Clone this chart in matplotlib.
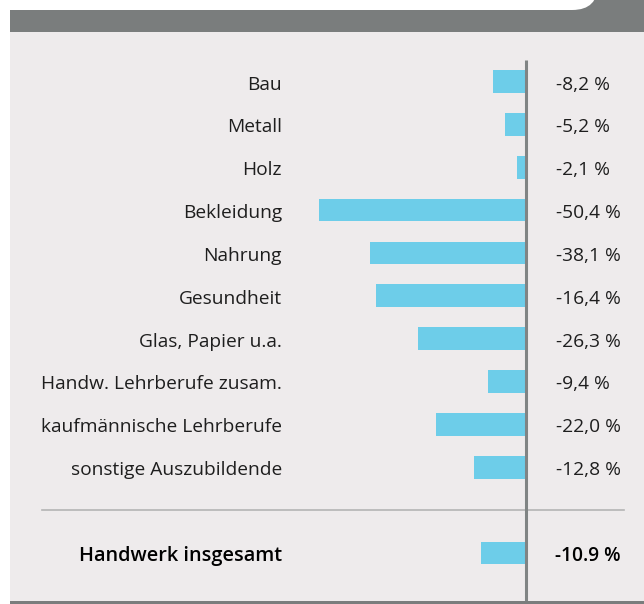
import matplotlib.pyplot as plt
from matplotlib.patches import Rectangle, FancyBboxPatch
import matplotlib.transforms as mtransforms

# Categories, bar lengths and printed value labels
categories = ["Bau", "Metall", "Holz", "Bekleidung", "Nahrung", "Gesundheit",
              "Glas, Papier u.a.", "Handw. Lehrberufe zusam.",
              "kaufmännische Lehrberufe", "sonstige Auszubildende"]
bar_values = [-8.1, -5.1, -2.2, -50.4, -38.1, -36.6, -26.3, -9.3, -21.9, -12.7]
value_labels = ["-8,2 %", "-5,2 %", "-2,1 %", "-50,4 %", "-38,1 %", "-16,4 %",
                "-26,3 %", "-9,4 %", "-22,0 %", "-12,8 %"]

total_label = "Handwerk insgesamt"
total_value = -10.9
total_value_label = "-10.9 %"

W, H = 644, 604
BG = "#eeebec"
BAR = "#6dcde9"
DARK = "#7a7d7d"
TEXT = "#1e1e1e"
FS = 13.8

plt.rcParams['font.family'] = ['Open Sans', 'DejaVu Sans']

fig = plt.figure(figsize=(W / 100, H / 100), dpi=100)
fig.patch.set_facecolor("white")

def px(x, y, w, h):
    # pixel box (from top-left) -> figure fraction
    return (x / W, 1 - (y + h) / H, w / W, h / H)

# frame: dark header band, light panel, dark bottom line
x0, y0, w0, h0 = px(10, 0, W - 10, 32)
fig.patches.append(Rectangle((x0, y0), w0, h0, transform=fig.transFigure,
                             facecolor=DARK, edgecolor="none", zorder=0))
x0, y0, w0, h0 = px(-30, -40, 628, 50)
fig.patches.append(FancyBboxPatch((x0, y0), w0, h0, transform=fig.transFigure,
                                  boxstyle="round,pad=0,rounding_size=0.04",
                                  mutation_aspect=W / H,
                                  facecolor="white", edgecolor="none", zorder=1))
x0, y0, w0, h0 = px(10, 32, W - 10, 569)
fig.patches.append(Rectangle((x0, y0), w0, h0, transform=fig.transFigure,
                             facecolor=BG, edgecolor="none", zorder=0))
x0, y0, w0, h0 = px(10, 601, W - 10, 3)
fig.patches.append(Rectangle((x0, y0), w0, h0, transform=fig.transFigure,
                             facecolor=DARK, edgecolor="none", zorder=0))

# data axes covering the panel
zero_px = 526
scale = 4.1          # px per percentage point
row0_px = 81.5
row_h = 42.85
ax_left, ax_top, ax_bottom = 10, 32, 601
ax = fig.add_axes(px(ax_left, ax_top, W - ax_left, ax_bottom - ax_top))
ax.set_zorder(5)
ax.set_facecolor("none")
ax.set_xlim(-(zero_px - ax_left) / scale, (W - zero_px) / scale)
ax.set_ylim((ax_bottom - row0_px) / row_h, (ax_top - row0_px) / row_h)
ax.axis("off")

rows = list(range(len(categories)))
total_row = len(categories) + 1
bh = 22.7 / row_h
dy = 3.0 / row_h     # text sits a bit lower than the bar centre

ax.barh(rows, bar_values, height=bh, color=BAR, zorder=2)
ax.barh([total_row], [total_value], height=bh, color=BAR, zorder=2)

lab_tr = mtransforms.blended_transform_factory(fig.transFigure, ax.transData)
for r, name, lab in zip(rows, categories, value_labels):
    ax.text(282 / W, r + dy, name, transform=lab_tr, ha="right", va="center",
            fontsize=FS, color=TEXT)
    ax.text(556 / W, r + dy, lab, transform=lab_tr, ha="left", va="center",
            fontsize=FS, color=TEXT)
ax.text(282 / W, total_row + dy, total_label, transform=lab_tr, ha="right",
        va="center", fontsize=14.3, color="black", fontweight="semibold")
ax.text(555 / W, total_row + dy, total_value_label, transform=lab_tr, ha="left",
        va="center", fontsize=13.8, color="black", fontweight="semibold")

# separator line and zero line
ax.plot([42 / W, 624 / W], [len(categories), len(categories)], transform=lab_tr,
        color="#b4b4b4", lw=1.2, zorder=1)
ax.plot([0, 0], [(60 - row0_px) / row_h, (ax_bottom - row0_px) / row_h],
        color="#808484", lw=2.2, zorder=3, solid_capstyle="butt")

fig.savefig("out.png", dpi=100)
